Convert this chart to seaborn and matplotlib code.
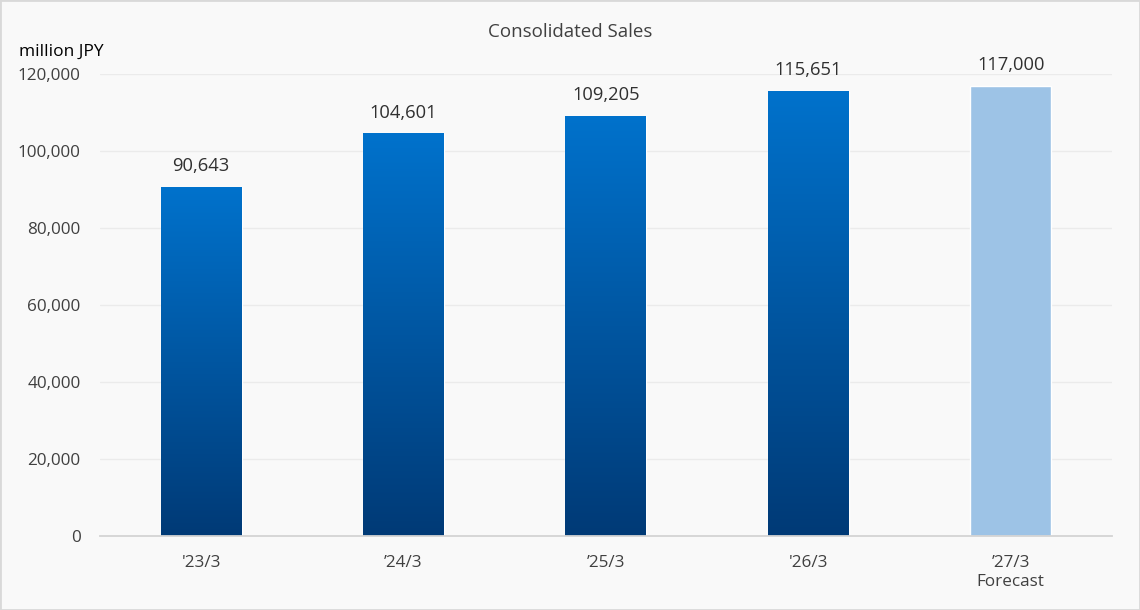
import matplotlib
matplotlib.use("Agg")
import matplotlib.pyplot as plt
from matplotlib.colors import LinearSegmentedColormap
from matplotlib.patches import Rectangle
import numpy as np
import pandas as pd
import seaborn as sns

periods = ["'23/3", "\u201924/3", "\u201925/3", "'26/3", "\u201927/3\nForecast"]
sales = [90643, 104601, 109205, 115651, 117000]
is_forecast = [False, False, False, False, True]
y_ticks = [0, 20000, 40000, 60000, 80000, 100000, 120000]

bg = "#f9f9f9"
sns.set_theme(style="white")
plt.rcParams["font.family"] = ["Open Sans", "DejaVu Sans"]

df = pd.DataFrame({"period": periods, "sales": sales})

fig = plt.figure(figsize=(11.4, 6.1), dpi=100, facecolor=bg)
ax = fig.add_axes([0.0877, 0.1213, 0.8877, 0.7574], facecolor=bg)

sns.barplot(data=df, x="period", y="sales", width=0.4, color="#0070c8",
            saturation=1, ax=ax, zorder=2)

# vertical gradient on the actual bars, plain light blue on the forecast
grad = LinearSegmentedColormap.from_list("g", ["#003a76", "#0072cc"])
ramp = np.linspace(0, 1, 256).reshape(-1, 1)
for patch, fc in zip(ax.patches, is_forecast):
    if fc:
        patch.set_facecolor("#9dc3e6")
        continue
    x0, y0 = patch.get_x(), patch.get_y()
    w, h = patch.get_width(), patch.get_height()
    im = ax.imshow(ramp, cmap=grad, origin="lower", aspect="auto",
                   extent=[x0, x0 + w, y0, y0 + h], zorder=2.5)
    im.set_clip_path(patch)
    patch.set_facecolor("none")

ax.set_xlim(-0.5, len(periods) - 0.5)
ax.set_ylim(0, 120000)
ax.set_yticks(y_ticks)
ax.set_yticklabels([f"{v:,}" for v in y_ticks])
ax.yaxis.grid(True, color="#ebebeb", linewidth=1, zorder=0)
ax.set_axisbelow(True)
for s in ["top", "right", "left"]:
    ax.spines[s].set_visible(False)
ax.spines["bottom"].set_color("#d4d4d4")
ax.spines["bottom"].set_linewidth(1.3)
ax.tick_params(axis="both", length=0, labelsize=12.3, colors="#404040")
ax.tick_params(axis="x", pad=14)
ax.tick_params(axis="y", pad=14)
ax.set_xlabel("")
ax.set_ylabel("")

for i, v in enumerate(sales):
    ax.text(i, v + 3000, f"{v:,}", ha="center", va="bottom",
            fontsize=13.2, color="#303030")

fig.text(0.5, 0.948, "Consolidated Sales", ha="center", va="center",
         fontsize=13.5, color="#404040")
fig.text(0.017, 0.915, "million JPY", ha="left", va="center",
         fontsize=12.5, color="#000000")

fig.patches.append(Rectangle((0, 0), 1, 1, transform=fig.transFigure,
                             fill=False, edgecolor="#d9d9d9", linewidth=2))

fig.savefig("out.png", dpi=100, facecolor=bg)
